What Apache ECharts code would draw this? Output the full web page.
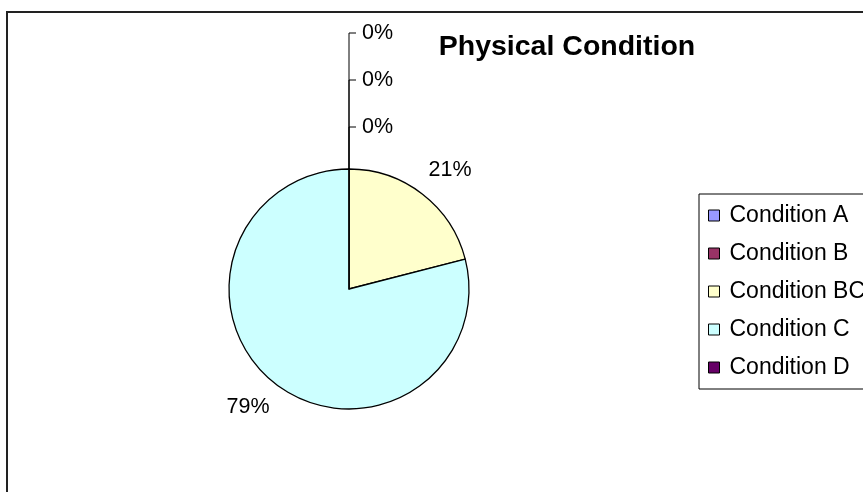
<!DOCTYPE html>
<html>
<head>
<meta charset="utf-8">
<style>
  html, body { margin: 0; padding: 0; background: #fff; }
  #container { width: 863px; height: 492px; }
</style>
<script src="https://cdn.jsdelivr.net/npm/echarts@6/dist/echarts.min.js"></script>
</head>
<body>
<div id="container"></div>
<script>
// data
var categories = ['Condition A', 'Condition B', 'Condition BC', 'Condition C', 'Condition D'];
var values = [0, 0, 21, 79, 0];
var colors = ['#9999FF', '#993366', '#FFFFCC', '#CCFFFF', '#660066'];

var cx = 349, cy = 289, r = 120;
var total = values.reduce((a, b) => a + b, 0);
var zeroIdx = [];
values.forEach((v, i) => { if (v === 0) zeroIdx.push(i); });

function midAngle(i) {
  let s = 0;
  for (let k = 0; k < i; k++) s += values[k];
  return (s + values[i] / 2) / total * 2 * Math.PI;
}

var dom = document.getElementById('container');
var myChart = echarts.init(dom);

var font = 'Liberation Sans, Arial, sans-serif';

var option = {
  backgroundColor: '#fff',
  animation: false,
  color: colors,
  title: {
    text: 'Physical Condition',
    left: 567,
    top: 33,
    padding: 0,
    textAlign: 'center',
    textStyle: { fontFamily: font, fontSize: 28.5, fontWeight: 'bold', color: '#000' }
  },
  legend: {
    orient: 'vertical',
    left: 699,
    top: 194,
    padding: [10, 30, 10, 9],
    itemGap: 15,
    itemWidth: 11,
    itemHeight: 11,
    icon: 'rect',
    selectedMode: false,
    borderColor: '#000',
    borderWidth: 1,
    itemStyle: { borderColor: '#000', borderWidth: 1 },
    textStyle: { fontFamily: font, fontSize: 23, color: '#000', padding: [0, 0, 0, 5] },
    data: categories
  },
  graphic: [
    {
      type: 'rect',
      shape: { x: 7, y: 12, width: 1000, height: 1000 },
      style: { fill: 'none', stroke: '#222', lineWidth: 2 },
      silent: true
    }
  ],
  series: [
    {
      type: 'pie',
      center: [cx, cy],
      radius: r,
      startAngle: 90,
      clockwise: true,
      avoidLabelOverlap: false,
      itemStyle: { borderColor: '#000', borderWidth: 1.3 },
      label: {
        show: true,
        position: 'outside',
        fontFamily: font,
        fontSize: 21.5,
        color: '#000',
        formatter: p => Math.round(p.percent) + '%'
      },
      labelLine: { show: true, lineStyle: { color: '#000', width: 1 } },
      labelLayout: function (p) {
        var i = p.dataIndex;
        if (values[i] === 0) {
          // Excel stacks the empty slices' labels above the pie
          var k = zeroIdx.indexOf(i);
          var y = cy - r - 136 + 47 * k;
          return {
            x: cx + 13, y: y, align: 'left', verticalAlign: 'middle',
            labelLinePoints: [[cx, cy - r], [cx, y], [cx + 7, y]]
          };
        }
        var a = midAngle(i);
        var dx = Math.sin(a), dy = -Math.cos(a);
        return {
          x: cx + 155 * dx + 6 * Math.sign(dx),
          y: cy + 150 * dy,
          align: 'center',
          verticalAlign: 'middle'
        };
      },
      emphasis: { disabled: true },
      data: categories.map((name, i) => ({
        name: name,
        value: values[i],
        labelLine: { show: values[i] === 0 }
      }))
    }
  ]
};

myChart.setOption(option);
window.onresize = function () {
  myChart.resize();
};
</script>
</body>
</html>
